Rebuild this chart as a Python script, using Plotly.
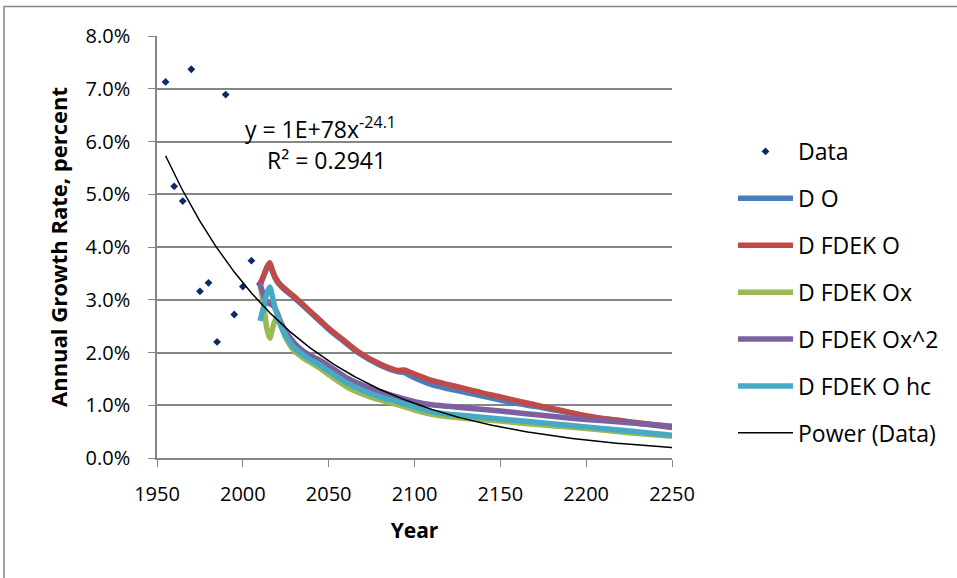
import numpy as np
import plotly.graph_objects as go

# ---------------- data ----------------
data_years = [1955, 1960, 1965, 1970, 1975, 1980, 1985, 1990, 1995, 2000, 2005, 2010]
data_rate = [7.13, 5.15, 4.87, 7.37, 3.16, 3.32, 2.20, 6.89, 2.72, 3.25, 3.74, 3.30]

red_years = [2010, 2012, 2014, 2015.7, 2017, 2019, 2021, 2024, 2030, 2035, 2040, 2045, 2050,
             2060, 2067, 2080, 2090, 2094, 2100, 2110, 2120, 2130, 2140, 2150, 2160, 2170,
             2180, 2190, 2200, 2210, 2220, 2230, 2240, 2250]
red_rate = [3.30, 3.45, 3.62, 3.70, 3.58, 3.42, 3.32, 3.22, 3.06, 2.91, 2.76, 2.61, 2.46,
            2.20, 2.02, 1.78, 1.66, 1.67, 1.59, 1.47, 1.39, 1.31, 1.23, 1.16, 1.08, 1.01,
            0.94, 0.87, 0.80, 0.75, 0.71, 0.67, 0.63, 0.59]

blue_years = red_years
blue_rate = [3.28, 3.43, 3.60, 3.68, 3.56, 3.40, 3.30, 3.20, 3.04, 2.89, 2.74, 2.59, 2.44,
             2.18, 2.00, 1.76, 1.64, 1.62, 1.52, 1.39, 1.31, 1.24, 1.17, 1.10, 1.03, 0.98,
             0.92, 0.86, 0.79, 0.74, 0.70, 0.66, 0.62, 0.58]

green_years = [2010, 2012, 2014, 2015.7, 2017, 2019, 2020.5, 2022, 2025, 2030, 2035, 2040,
               2045, 2050, 2060, 2070, 2080, 2090, 2100, 2110, 2120, 2130, 2150, 2180, 2200,
               2225, 2250]
green_rate = [3.30, 2.95, 2.45, 2.27, 2.42, 2.62, 2.64, 2.52, 2.28, 2.03, 1.90, 1.80,
              1.70, 1.58, 1.36, 1.21, 1.10, 1.01, 0.91, 0.83, 0.78, 0.75, 0.70, 0.61, 0.56,
              0.48, 0.41]

purple_years = [2010, 2012, 2014, 2016, 2018, 2020, 2022, 2025, 2030, 2035, 2040, 2045, 2050,
                2060, 2070, 2080, 2090, 2100, 2110, 2120, 2130, 2150, 2180, 2200, 2225, 2250]
purple_rate = [3.30, 3.10, 2.95, 2.92, 2.88, 2.75, 2.58, 2.40, 2.18, 2.03, 1.93, 1.85, 1.75,
               1.53, 1.38, 1.26, 1.16, 1.07, 1.01, 0.98, 0.95, 0.89, 0.79, 0.73, 0.67, 0.60]

cyan_years = [2010, 2012, 2014, 2015.7, 2018, 2020, 2022, 2025, 2030, 2035, 2040, 2045, 2050,
              2060, 2070, 2080, 2090, 2100, 2110, 2120, 2130, 2150, 2180, 2200, 2225, 2250]
cyan_rate = [2.60, 2.85, 3.12, 3.24, 2.95, 2.72, 2.52, 2.32, 2.09, 1.96, 1.85, 1.76, 1.65,
             1.44, 1.28, 1.16, 1.07, 0.97, 0.88, 0.83, 0.80, 0.74, 0.65, 0.59, 0.51, 0.43]

x_ticks = [1950, 2000, 2050, 2100, 2150, 2200, 2250]

# ---------------- power trendline (least squares fit in log-log, as Excel) ----------------
b, ln_a = np.polyfit(np.log(data_years), np.log(np.array(data_rate) / 100.0), 1)
trend_x = np.arange(1955, 2251, 1.0)
trend_y = np.exp(ln_a) * trend_x ** b

FONT = "'Open Sans', 'Noto Sans', sans-serif"

fig = go.Figure()

series = [
    ("D O", blue_years, blue_rate, "#4A7EBB"),
    ("D FDEK O", red_years, red_rate, "#BE4B48"),
    ("D FDEK Ox", green_years, green_rate, "#98B954"),
    ("D FDEK Ox^2", purple_years, purple_rate, "#7D60A0"),
    ("D FDEK O hc", cyan_years, cyan_rate, "#46AAC5"),
]

fig.add_trace(go.Scatter(
    x=data_years, y=[v / 100 for v in data_rate], mode="markers", name="Data",
    marker=dict(symbol="diamond", size=6, color="#0B2A66"), legendgroup="g0",
))
for i, (name, xs, ys, col) in enumerate(series):
    fig.add_trace(go.Scatter(
        x=xs, y=[v / 100 for v in ys], mode="lines", name=name,
        line=dict(color=col, width=5.5, shape="spline", smoothing=0.7),
        legendgroup=f"g{i+1}",
    ))
fig.add_trace(go.Scatter(
    x=trend_x, y=trend_y, mode="lines", name="Power (Data)",
    line=dict(color="black", width=1.5), legendgroup="g9",
))

# pixel helpers
L, R, T, B = 157, 672, 36, 458
PW, PH = R - L, B - T
def px(x):
    return (x - L) / PW
def py(y):
    return (B - y) / PH

# chart-area border (left and top edges visible in the frame)
fig.add_shape(type="line", xref="paper", yref="paper",
              x0=px(4), x1=px(4), y0=py(590), y1=py(6),
              line=dict(color="#868686", width=1.5), layer="below")
fig.add_shape(type="line", xref="paper", yref="paper",
              x0=px(4), x1=px(965), y0=py(6.5), y1=py(6.5),
              line=dict(color="#868686", width=1.5), layer="below")

fig.add_annotation(x=px(320), y=py(128), xref="paper", yref="paper",
                   xanchor="center", yanchor="middle",
                   text="y = 1E+78x<sup>-24.1</sup>", showarrow=False,
                   font=dict(family=FONT, size=23, color="black"))
fig.add_annotation(x=px(326), y=py(160), xref="paper", yref="paper",
                   xanchor="center", yanchor="middle",
                   text="R² = 0.2941", showarrow=False,
                   font=dict(family=FONT, size=23, color="black"))

fig.update_layout(
    width=957, height=578,
    margin=dict(l=L, r=957 - R, t=T, b=578 - B),
    paper_bgcolor="white", plot_bgcolor="white",
    font=dict(family=FONT, size=20, color="black"),
    showlegend=True,
    legend=dict(
        x=px(733), y=py(130), xanchor="left", yanchor="top",
        font=dict(family=FONT, size=23, color="black"),
        tracegroupgap=14, itemwidth=55, bgcolor="rgba(0,0,0,0)",
    ),
    xaxis=dict(
        range=[1950, 2250], tickvals=x_ticks, ticks="outside", ticklen=7,
        tickcolor="#868686", showline=True, linecolor="#868686", linewidth=1.5,
        showgrid=False, zeroline=False, ticklabelstandoff=10,
        title=dict(text="<b>Year</b>", font=dict(family=FONT, size=21), standoff=18),
        tickfont=dict(family=FONT, size=20),
    ),
    yaxis=dict(
        range=[0, 0.08], dtick=0.01, tickformat=".1%", ticks="outside", ticklen=7,
        tickcolor="#868686", showline=True, linecolor="#868686", linewidth=1.5,
        showgrid=True, gridcolor="#868686", gridwidth=1.5, zeroline=False,
        ticklabelstandoff=14,
        title=dict(text="<b>Annual Growth Rate, percent</b>", font=dict(family=FONT, size=22),
                   standoff=12),
        tickfont=dict(family=FONT, size=20),
    ),
)

fig.write_html("out.html", config={"displayModeBar": False},
               post_script="document.body.style.margin='0';")
